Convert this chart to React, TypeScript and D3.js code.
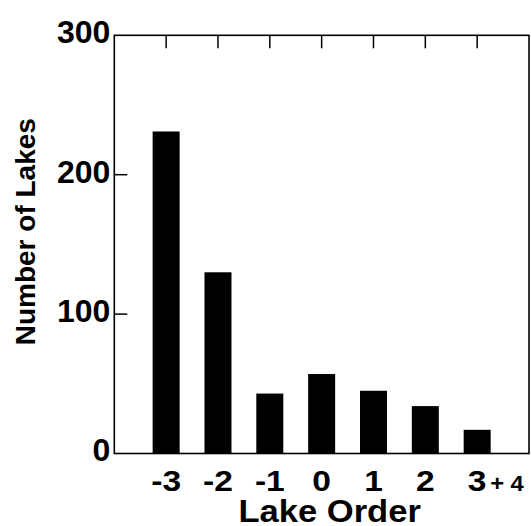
import React from "react";
import * as d3 from "d3";

// lake order classes and counts
const lakeOrders = ["-3", "-2", "-1", "0", "1", "2", "3+4"];
const lakeCounts = [231, 130, 43, 57, 45, 34, 17];
const tickMain = ["-3", "-2", "-1", "0", "1", "2", "3"];
const tickSuffix = ["", "", "", "", "", "", "+ 4"];
const yTicks = [0, 100, 200, 300];

const FONT = "'Liberation Sans', Arial, Helvetica, sans-serif";

const App = () => {
  const width = 531,
    height = 526;
  const margin = { top: 35.3, right: 2, bottom: 72.5, left: 114.3 };
  const innerW = width - margin.left - margin.right;
  const innerH = height - margin.top - margin.bottom;

  const x = d3.scalePoint<string>().domain(lakeOrders).range([0, innerW]).padding(1);
  const y = d3.scaleLinear().domain([0, 300]).range([innerH, 0]);
  const barW = 27;
  const tickLen = 13;

  return (
    <svg
      width={width}
      height={height}
      style={{ position: "absolute", left: 0, top: 0, background: "#fff" }}
      fontFamily={FONT}
      fontWeight="bold"
    >
      <g transform={`translate(${margin.left},${margin.top})`}>
        {/* bars */}
        {lakeOrders.map((d, i) => (
          <rect
            key={d}
            x={(x(d) as number) - barW / 2}
            y={y(lakeCounts[i])}
            width={barW}
            height={innerH - y(lakeCounts[i])}
            fill="#000"
          />
        ))}

        {/* frame */}
        <rect x={0} y={0} width={innerW} height={innerH} fill="none" stroke="#000" strokeWidth={1.6} />

        {/* top ticks at each class */}
        {lakeOrders.map((d) => (
          <line key={"t" + d} x1={x(d)} x2={x(d)} y1={0} y2={tickLen} stroke="#000" strokeWidth={1.5} />
        ))}

        {/* left ticks */}
        {yTicks
          .filter((t) => t > 0 && t < 300)
          .map((t) => (
            <line key={"y" + t} x1={0} x2={tickLen} y1={y(t)} y2={y(t)} stroke="#000" strokeWidth={1.5} />
          ))}

        {/* y tick labels */}
        {yTicks.map((t) => (
          <text key={"yl" + t} x={-4} y={y(t)} dy={8} textAnchor="end" fontSize={32}>
            {t}
          </text>
        ))}

        {/* x tick labels */}
        {lakeOrders.map((d, i) => (
          <g key={"xl" + d}>
            <text
              transform={`translate(${x(d)},${innerH + 37}) scale(1.12,1)`}
              textAnchor="middle"
              fontSize={30}
            >
              {tickMain[i]}
            </text>
            {tickSuffix[i] && (
              <text
                transform={`translate(${(x(d) as number) + 13},${innerH + 37}) scale(1.08,1)`}
                textAnchor="start"
                fontSize={22}
              >
                {tickSuffix[i]}
              </text>
            )}
          </g>
        ))}

        {/* axis titles */}
        <text
          transform={`translate(${innerW / 2 + 8},${innerH + 68.3}) scale(1.08,1)`}
          textAnchor="middle"
          fontSize={32}
        >
          Lake Order
        </text>
        <text
          transform={`translate(${35 - margin.left},${231.7 - margin.top}) rotate(-90)`}
          textAnchor="middle"
          fontSize={28}
        >
          Number of Lakes
        </text>
      </g>
    </svg>
  );
};

export default App;
